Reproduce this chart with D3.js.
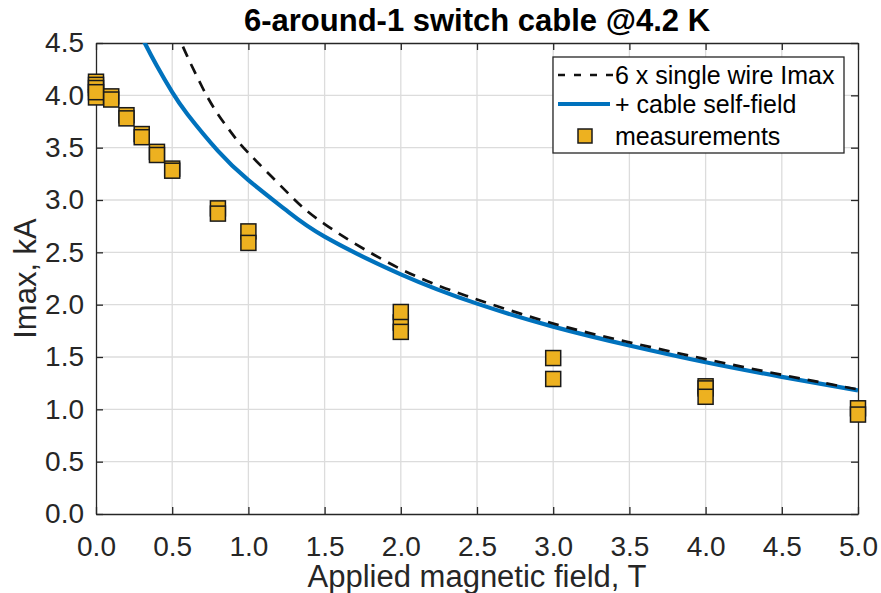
<!DOCTYPE html>
<html>
<head>
<meta charset="utf-8">
<script src="https://cdn.jsdelivr.net/npm/d3@7"></script>
<style>
  body { margin: 0; background: #fff; }
  svg { font-family: "Liberation Sans", Arial, sans-serif; }
</style>
</head>
<body>
<div id="chart"></div>
<script>
// tick labels
const xTicks = [0, 0.5, 1, 1.5, 2, 2.5, 3, 3.5, 4, 4.5, 5];
const yTicks = [0, 0.5, 1, 1.5, 2, 2.5, 3, 3.5, 4, 4.5];

// 6 x single wire Imax (dashed)
const wireField = [0.52, 0.56, 0.6, 0.7, 0.8, 0.9, 1.0, 1.25, 1.5, 2.0, 2.5, 3.0, 3.5, 4.0, 4.5, 5.0];
const wireImax  = [4.63, 4.50, 4.37, 4.07, 3.82, 3.62, 3.45, 3.08, 2.77, 2.34, 2.05, 1.82, 1.64, 1.48, 1.33, 1.19];

// + cable self-field (blue)
const cableField = [0.28, 0.32, 0.4, 0.5, 0.6, 0.8, 1.0, 1.25, 1.5, 2.0, 2.5, 3.0, 3.5, 4.0, 4.5, 5.0];
const cableImax  = [4.62, 4.50, 4.28, 4.03, 3.82, 3.47, 3.19, 2.90, 2.65, 2.29, 2.01, 1.79, 1.61, 1.45, 1.31, 1.18];

// measurements
const measField = [0, 0, 0, 0, 0, 0.1, 0.1, 0.2, 0.2, 0.3, 0.3, 0.4, 0.4, 0.5, 0.5,
                   0.8, 0.8, 1.0, 1.0, 2.0, 2.0, 2.0, 3.0, 3.0, 4.0, 4.0, 4.0, 5.0, 5.0];
const measImax  = [3.98, 4.13, 4.10, 4.07, 4.03, 3.99, 3.96, 3.81, 3.78, 3.63, 3.60, 3.46, 3.43, 3.30, 3.28,
                   2.92, 2.87, 2.70, 2.59, 1.83, 1.93, 1.74, 1.49, 1.29, 1.22, 1.20, 1.12, 1.01, 0.95];

const width = 881, height = 593;
const plotL = 96, plotR = 858, plotT = 43, plotB = 514;
const ink = "#262626";

const svg = d3.select("#chart").append("svg")
  .attr("width", width).attr("height", height);

const x = d3.scaleLinear().domain([0, 5]).range([plotL, plotR]);
const y = d3.scaleLinear().domain([0, 4.5]).range([plotB, plotT]);

// grid
svg.append("g").selectAll("line").data(xTicks.slice(1, -1)).enter().append("line")
  .attr("x1", d => x(d)).attr("x2", d => x(d))
  .attr("y1", plotT).attr("y2", plotB)
  .attr("stroke", "#dcdcdc").attr("stroke-width", 1.3);
svg.append("g").selectAll("line").data(yTicks.slice(1, -1)).enter().append("line")
  .attr("y1", d => y(d)).attr("y2", d => y(d))
  .attr("x1", plotL).attr("x2", plotR)
  .attr("stroke", "#dcdcdc").attr("stroke-width", 1.3);

// axes (ticks inside, box all round)
const tickLen = 7;
const xBottom = d3.axisBottom(x).tickValues(xTicks).tickFormat(d3.format(".1f")).tickSizeInner(-tickLen).tickSizeOuter(0).tickPadding(22);
const xTop = d3.axisTop(x).tickValues(xTicks).tickFormat("").tickSizeInner(-tickLen).tickSizeOuter(0);
const yLeft = d3.axisLeft(y).tickValues(yTicks).tickFormat(d3.format(".1f")).tickSizeInner(-tickLen).tickSizeOuter(0).tickPadding(12);
const yRight = d3.axisRight(y).tickValues(yTicks).tickFormat("").tickSizeInner(-tickLen).tickSizeOuter(0);

function styleAxis(g) {
  g.selectAll("path, line").attr("stroke", ink).attr("stroke-width", 1.3);
  g.selectAll("text").attr("fill", ink).style("font-size", "28px");
}
svg.append("g").attr("transform", `translate(0,${plotB})`).call(xBottom).call(styleAxis);
svg.append("g").attr("transform", `translate(0,${plotT})`).call(xTop).call(styleAxis);
svg.append("g").attr("transform", `translate(${plotL},0)`).call(yLeft).call(styleAxis);
svg.append("g").attr("transform", `translate(${plotR},0)`).call(yRight).call(styleAxis);

// curves, clipped to the plot box
svg.append("clipPath").attr("id", "plotClip").append("rect")
  .attr("x", plotL).attr("y", plotT).attr("width", plotR - plotL).attr("height", plotB - plotT);

const line = d3.line().x(d => x(d[0])).y(d => y(d[1])).curve(d3.curveNatural);

svg.append("path")
  .datum(cableField.map((f, i) => [f, cableImax[i]]))
  .attr("d", line).attr("clip-path", "url(#plotClip)")
  .attr("fill", "none").attr("stroke", "#0072BD").attr("stroke-width", 4.2);

svg.append("path")
  .datum(wireField.map((f, i) => [f, wireImax[i]]))
  .attr("d", line).attr("clip-path", "url(#plotClip)")
  .attr("fill", "none").attr("stroke", "#111").attr("stroke-width", 2.7)
  .attr("stroke-dasharray", "11,8");

// measurement squares
const sq = 15;
svg.append("g").selectAll("rect").data(measField).enter().append("rect")
  .attr("x", d => x(d) - sq / 2)
  .attr("y", (d, i) => y(measImax[i]) - sq / 2)
  .attr("width", sq).attr("height", sq)
  .attr("fill", "#EDB120").attr("stroke", "#1a1a1a").attr("stroke-width", 1.5);

// title and labels
svg.append("text").attr("x", (plotL + plotR) / 2).attr("y", 31)
  .attr("text-anchor", "middle").attr("fill", "#000")
  .style("font-size", "31px").style("font-weight", "bold")
  .text("6-around-1 switch cable @4.2 K");

svg.append("text").attr("x", (plotL + plotR) / 2).attr("y", 587)
  .attr("text-anchor", "middle").attr("fill", ink).style("font-size", "31px")
  .text("Applied magnetic field, T");

svg.append("text").attr("transform", `translate(36,${(plotT + plotB) / 2}) rotate(-90)`)
  .attr("text-anchor", "middle").attr("fill", ink).style("font-size", "31px")
  .text("Imax, kA");

// legend
const lg = svg.append("g");
lg.append("rect").attr("x", 553).attr("y", 57).attr("width", 291).attr("height", 96)
  .attr("fill", "#fff").attr("stroke", ink).attr("stroke-width", 1.3);

const rows = [
  { label: "6 x single wire Imax", cy: 75 },
  { label: "+ cable self-field", cy: 104 },
  { label: "measurements", cy: 136 }
];
lg.append("line").attr("x1", 558).attr("x2", 613).attr("y1", rows[0].cy).attr("y2", rows[0].cy)
  .attr("stroke", "#111").attr("stroke-width", 2.4).attr("stroke-dasharray", "7,9");
lg.append("line").attr("x1", 558).attr("x2", 610).attr("y1", rows[1].cy).attr("y2", rows[1].cy)
  .attr("stroke", "#0072BD").attr("stroke-width", 4.2);
lg.append("rect").attr("x", 585 - 7).attr("y", rows[2].cy - 7).attr("width", 14).attr("height", 14)
  .attr("fill", "#EDB120").attr("stroke", "#1a1a1a").attr("stroke-width", 1.5);

lg.selectAll("text.lbl").data(rows).enter().append("text")
  .attr("x", 615).attr("y", d => d.cy).attr("dy", "0.35em")
  .attr("fill", "#000").style("font-size", "25px")
  .text(d => d.label);
</script>
</body>
</html>
